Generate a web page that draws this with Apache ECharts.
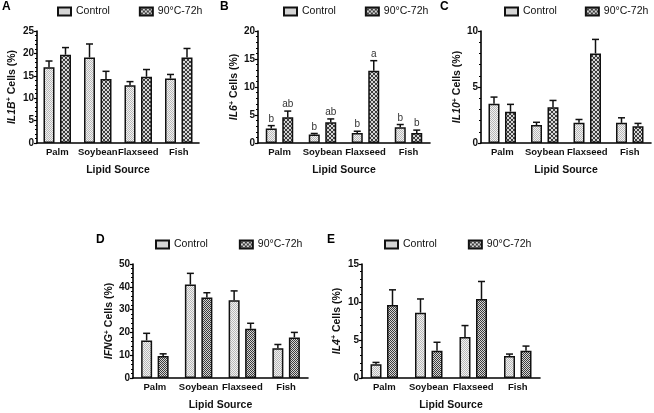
<!DOCTYPE html>
<html>
<head>
<meta charset="utf-8">
<script src="https://cdn.jsdelivr.net/npm/echarts@6/dist/echarts.min.js"></script>
<style>
html,body{margin:0;padding:0;background:#fff;}
#chart{width:654px;height:413px;}
</style>
</head>
<body>
<div id="chart"></div>
<script>
// ---------- data ----------
const categories = ['Palm', 'Soybean', 'Flaxseed', 'Fish'];
const seriesNames = ['Control', '90°C-72h'];

const il1bControl = [16.9, 19.1, 12.9, 14.4];
const il1bControlSem = [1.4, 3.0, 0.8, 0.9];
const il1bHeated = [19.7, 14.3, 14.8, 19.1];
const il1bHeatedSem = [1.6, 1.7, 1.6, 2.0];
const il1bTicks = [0, 5, 10, 15, 20, 25];

const il6Control = [2.6, 1.5, 1.8, 2.8];
const il6ControlSem = [0.5, 0.2, 0.3, 0.5];
const il6Heated = [4.6, 3.7, 12.9, 1.8];
const il6HeatedSem = [1.1, 0.6, 1.8, 0.5];
const il6ControlLetters = ['b', 'b', 'b', 'b'];
const il6HeatedLetters = ['ab', 'ab', 'a', 'b'];
const il6Ticks = [0, 5, 10, 15, 20];

const il10Control = [3.5, 1.6, 1.8, 1.8];
const il10ControlSem = [0.6, 0.25, 0.3, 0.45];
const il10Heated = [2.8, 3.2, 8.0, 1.5];
const il10HeatedSem = [0.65, 0.6, 1.25, 0.25];
const il10Ticks = [0, 5, 10];

const ifngControl = [16.5, 41.0, 34.1, 13.1];
const ifngControlSem = [3.1, 4.9, 4.1, 1.6];
const ifngHeated = [9.6, 35.3, 21.6, 17.8];
const ifngHeatedSem = [1.0, 2.1, 2.4, 2.2];
const ifngTicks = [0, 10, 20, 30, 40, 50];

const il4Control = [1.8, 8.6, 5.4, 2.9];
const il4ControlSem = [0.25, 1.8, 1.5, 0.25];
const il4Heated = [9.6, 3.6, 10.4, 3.6];
const il4HeatedSem = [2.0, 1.1, 2.3, 0.6];
const il4Ticks = [0, 5, 10, 15];

// ---------- patterns ----------
function controlPattern() {
  const c = document.createElement('canvas'); c.width = 2; c.height = 2;
  const g = c.getContext('2d');
  g.fillStyle = '#f2f2f2'; g.fillRect(0, 0, 2, 2);
  g.fillStyle = '#b8b8b8'; g.fillRect(0, 0, 1, 1); g.fillRect(1, 1, 1, 1);
  return { image: c, repeat: 'repeat' };
}
function heatedPattern(diag) {
  const c = document.createElement('canvas'); c.width = 4; c.height = 4;
  const g = c.getContext('2d');
  g.fillStyle = '#d6d6d6'; g.fillRect(0, 0, 4, 4);
  g.fillStyle = '#3c3c3c';
  for (let i = 0; i < 4; i++) {
    g.fillRect(i, i, 1, 1);
    if (diag) g.fillRect(i, (i + 2) % 4, 1, 1); else g.fillRect(i, 3 - i, 1, 1);
  }
  return { image: c, repeat: 'repeat' };
}

// ---------- panels ----------
const panels = [
  { letter: 'A', gene: 'IL1B', c: il1bControl, cs: il1bControlSem, h: il1bHeated, hs: il1bHeatedSem, ticks: il1bTicks,
    grid: { left: 37, top: 31, width: 162, height: 112 }, legend: { left: 57, top: 6, gap: 29 }, title: { left: 2, top: 1 }, nameGap: 19, diag: false },
  { letter: 'B', gene: 'IL6', c: il6Control, cs: il6ControlSem, h: il6Heated, hs: il6HeatedSem, ticks: il6Ticks,
    cl: il6ControlLetters, hl: il6HeatedLetters,
    grid: { left: 258, top: 31, width: 172, height: 112 }, legend: { left: 283, top: 6, gap: 29 }, title: { left: 220, top: 1 }, nameGap: 15, diag: false },
  { letter: 'C', gene: 'IL10', c: il10Control, cs: il10ControlSem, h: il10Heated, hs: il10HeatedSem, ticks: il10Ticks,
    grid: { left: 481, top: 31, width: 170, height: 112 }, legend: { left: 504, top: 6, gap: 28 }, title: { left: 440, top: 1 }, nameGap: 13, diag: false },
  { letter: 'D', gene: 'IFNG', c: ifngControl, cs: ifngControlSem, h: ifngHeated, hs: ifngHeatedSem, ticks: ifngTicks,
    grid: { left: 133, top: 264, width: 175, height: 114 }, legend: { left: 155, top: 239, gap: 31 }, title: { left: 96, top: 234 }, nameGap: 17, diag: true },
  { letter: 'E', gene: 'IL4', c: il4Control, cs: il4ControlSem, h: il4Heated, hs: il4HeatedSem, ticks: il4Ticks,
    grid: { left: 362, top: 264, width: 178, height: 114 }, legend: { left: 384, top: 239, gap: 31 }, title: { left: 327, top: 234 }, nameGap: 19, diag: true }
];

const FONT = 'Liberation Sans, Arial, Helvetica, sans-serif';
const BAR_W = 11, GAP = 5.5, OFF = (BAR_W + GAP) / 2;

const option = {
  animation: false,
  backgroundColor: '#ffffff',
  title: [], grid: [], xAxis: [], yAxis: [], legend: [], series: []
};

panels.forEach((p, k) => {
  const cPat = controlPattern();
  const hPat = heatedPattern(p.diag);
  option.title.push({ text: p.letter, left: p.title.left, top: p.title.top, padding: 0,
    textStyle: { fontFamily: FONT, fontSize: 12, fontWeight: 'bold', color: '#000' } });
  option.grid.push(Object.assign({ containLabel: false }, p.grid));
  option.legend.push({
    data: seriesNames, left: p.legend.left, top: p.legend.top, width: 300, orient: 'horizontal',
    icon: 'rect', itemWidth: 13, itemHeight: 8, itemGap: p.legend.gap, padding: 0,
    textStyle: { fontFamily: FONT, fontSize: 10.5, color: '#111' },
    selectedMode: false
  });
  const tickMin = p.ticks[0], tickMax = p.ticks[p.ticks.length - 1];
  option.xAxis.push({
    type: 'category', gridIndex: k, data: categories,
    name: 'Lipid Source', nameLocation: 'middle', nameGap: 22,
    nameTextStyle: { fontFamily: FONT, fontSize: 10.5, fontWeight: 'bold', color: '#111' },
    axisLine: { lineStyle: { color: '#000', width: 1.6 } },
    axisTick: { alignWithLabel: true, length: 3, lineStyle: { color: '#000', width: 1.2 } },
    axisLabel: { fontFamily: FONT, fontSize: 9.5, fontWeight: 'bold', color: '#111', margin: 4, interval: 0 },
    splitLine: { show: false }
  });
  option.yAxis.push({
    type: 'value', gridIndex: k, min: tickMin, max: tickMax, interval: p.ticks[1] - p.ticks[0],
    name: '{g|' + p.gene + '}{s|+}{n| Cells (%)}',
    nameLocation: 'middle', nameGap: p.nameGap, nameRotate: 90,
    nameTextStyle: {
      fontFamily: FONT, fontSize: 10.5, fontWeight: 'bold', color: '#111',
      rich: {
        g: { fontFamily: FONT, fontSize: 10.5, fontWeight: 'bold', fontStyle: 'italic', color: '#111' },
        s: { fontFamily: FONT, fontSize: 7, fontWeight: 'bold', color: '#111', verticalAlign: 'top', padding: [0, 0, 5, 0] },
        n: { fontFamily: FONT, fontSize: 10.5, fontWeight: 'bold', color: '#111' }
      }
    },
    axisLine: { show: true, lineStyle: { color: '#000', width: 1.6 } },
    axisTick: { show: true, length: 3, lineStyle: { color: '#000', width: 1.2 } },
    minorTick: { show: true, splitNumber: 5, length: 2, lineStyle: { color: '#000', width: 1 } },
    axisLabel: { fontFamily: FONT, fontSize: 10, fontWeight: 'bold', color: '#111', margin: 3 },
    splitLine: { show: false }
  });
  const barStyle = (pat) => ({ color: pat, borderColor: '#111', borderWidth: 1.5 });
  option.series.push({
    name: seriesNames[0], type: 'bar', xAxisIndex: k, yAxisIndex: k,
    data: p.c, barWidth: BAR_W, barGap: (GAP / BAR_W * 100) + '%', itemStyle: barStyle(cPat), z: 2
  });
  option.series.push({
    name: seriesNames[1], type: 'bar', xAxisIndex: k, yAxisIndex: k,
    data: p.h, barWidth: BAR_W, barGap: (GAP / BAR_W * 100) + '%', itemStyle: barStyle(hPat), z: 2
  });
  [[p.c, p.cs, p.cl, -OFF], [p.h, p.hs, p.hl, OFF]].forEach(([mean, sem, letters, off], j) => {
    option.series.push({
      name: 'err' + k + '_' + j, type: 'custom', xAxisIndex: k, yAxisIndex: k, z: 3,
      data: categories.map((c, i) => [i, mean[i], mean[i] + sem[i]]),
      renderItem: (params, api) => {
        const i = api.value(0);
        const p0 = api.coord([i, api.value(1)]);
        const p1 = api.coord([i, api.value(2)]);
        const x = p0[0] + off;
        const children = [
          { type: 'line', shape: { x1: x, y1: p0[1], x2: x, y2: p1[1] }, style: { stroke: '#111', lineWidth: 1.5 } },
          { type: 'line', shape: { x1: x - 3.5, y1: p1[1], x2: x + 3.5, y2: p1[1] }, style: { stroke: '#111', lineWidth: 1.5 } }
        ];
        if (letters) {
          children.push({ type: 'text', style: { text: letters[i], x: x, y: p1[1] - 1.5, align: 'center', verticalAlign: 'bottom',
            fontFamily: FONT, fontSize: 10, fill: '#333' } });
        }
        return { type: 'group', children: children };
      }
    });
  });
});

const chart = echarts.init(document.getElementById('chart'), null, { renderer: 'canvas' });
chart.setOption(option);
</script>
</body>
</html>
